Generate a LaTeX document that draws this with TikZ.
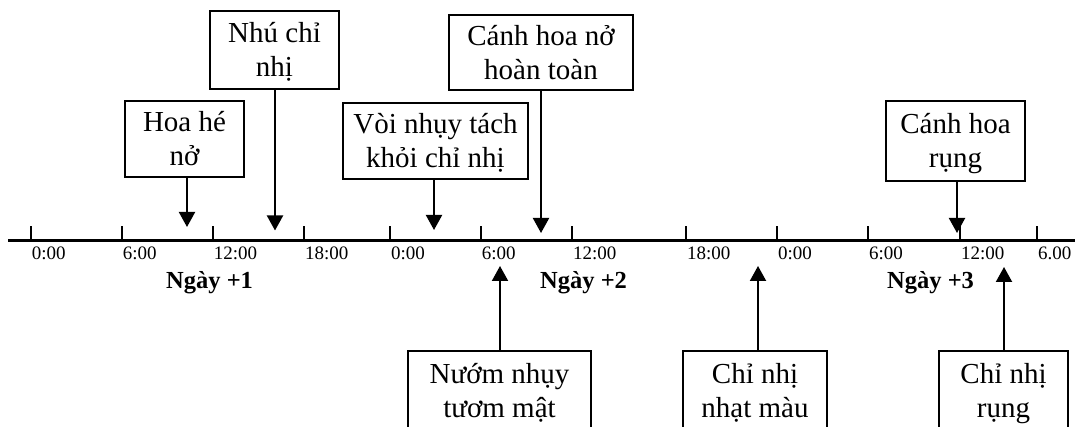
\documentclass[tikz,border=0pt]{standalone}
\usepackage{fontspec}
\setmainfont{Liberation Serif}
\usetikzlibrary{arrows.meta}
% strut that fixes the line height inside the event boxes
\newcommand\boxstrut{\rule[-7pt]{0pt}{34pt}}
\begin{document}
\begin{tikzpicture}[x=1pt,y=-1pt,
  evbox/.style={draw, line width=1.4pt, inner sep=0pt, align=center,
                font=\fontsize{29}{34}\selectfont},
  arr/.style={line width=2pt, -{Triangle[width=16pt,length=15pt]}},
  hourtick/.style={line width=2pt},
  hour/.style={anchor=base west, inner sep=0pt, font=\fontsize{19}{21}\selectfont},
  day/.style={anchor=base west, inner sep=0pt, font=\bfseries\fontsize{24.5}{28}\selectfont}]
\useasboundingbox (0,0) rectangle (1075,427);
\fill[white] (0,0) rectangle (1075,427);
\clip (0,0) rectangle (1075,427);

% time axis
\coordinate (axL) at (8,240.7);
\coordinate (axR) at (1075,240.7);
\draw[line width=2.6pt] (axL) -- (axR);
\foreach \x/\t [count=\i] in {30.7/0:00, 121.7/6:00, 212.7/12:00, 304/18:00,
    390/0:00, 480.7/6:00, 572/12:00, 686/18:00, 777/0:00, 868/6:00,
    960/12:00, 1037/6.00}{
  \draw[hourtick] (\x,240.7) -- (\x,226.5);
  \node[hour] (h\i) at (\x+1,260) {\t};
}

% day labels
\node[day] (d1) at (166,289) {Ngày +1};
\node[day] (d2) at (540,289) {Ngày +2};
\node[day] (d3) at (887,289) {Ngày +3};

% events above the axis
\node[evbox, minimum width=119pt, minimum height=76pt] (hoa) at (184.5,139) {\boxstrut Hoa hé\\nở\boxstrut};
\node[evbox, minimum width=129pt, minimum height=78pt] (nhu) at (274.5,50) {\boxstrut Nhú chỉ\\nhị\boxstrut};
\node[evbox, minimum width=185pt, minimum height=76pt] (voi) at (435.5,141) {\boxstrut Vòi nhụy tách\\khỏi chỉ nhị\boxstrut};
\node[evbox, minimum width=184pt, minimum height=75pt] (canhno) at (541,52.5) {\boxstrut Cánh hoa nở\\hoàn toàn\boxstrut};
\node[evbox, minimum width=139pt, minimum height=80pt] (canhrung) at (955.5,141) {\boxstrut Cánh hoa\\rụng\boxstrut};

% events below the axis
\node[evbox, minimum width=183pt, minimum height=78pt] (nuom) at (499.5,390) {\boxstrut Nướm nhụy\\tươm mật\boxstrut};
\node[evbox, minimum width=144pt, minimum height=78pt] (nhat) at (755,390) {\boxstrut Chỉ nhị\\nhạt màu\boxstrut};
\node[evbox, minimum width=129pt, minimum height=78pt] (chirung) at (1003.5,390) {\boxstrut Chỉ nhị\\rụng\boxstrut};

% arrow tips on the time axis
\coordinate (hoaT) at (187,227);
\coordinate (nhuT) at (275,230.5);
\coordinate (voiT) at (434,230);
\coordinate (canhnoT) at (541,233);
\coordinate (canhrungT) at (957,233);
\coordinate (nuomT) at (500,266);
\coordinate (nhatT) at (758,266);
\coordinate (chirungT) at (1004,267);

\draw[arr] (hoa.south -| hoaT) -- (hoaT);
\draw[arr] (nhu.south -| nhuT) -- (nhuT);
\draw[arr] (voi.south -| voiT) -- (voiT);
\draw[arr] (canhno.south -| canhnoT) -- (canhnoT);
\draw[arr] (canhrung.south -| canhrungT) -- (canhrungT);
\draw[arr] (nuom.north -| nuomT) -- (nuomT);
\draw[arr] (nhat.north -| nhatT) -- (nhatT);
\draw[arr] (chirung.north -| chirungT) -- (chirungT);
\end{tikzpicture}
\end{document}
